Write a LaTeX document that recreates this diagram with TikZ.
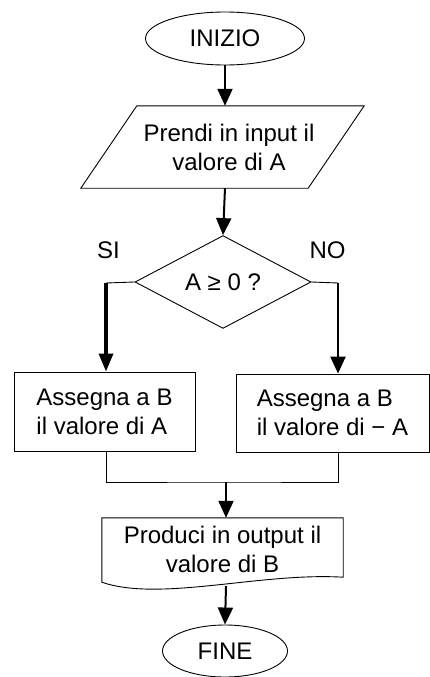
\documentclass[tikz,border=0pt]{standalone}
\usepackage{fontspec}
\setmainfont{Liberation Sans}
\usetikzlibrary{shapes.geometric,arrows.meta}
\begin{document}
\begin{tikzpicture}[x=1pt,y=-1pt]
\tikzstyle{every node}=[font=\fontsize{24}{29}\selectfont]
\tikzstyle{term}=[ellipse,draw,line width=0.9pt,inner sep=0pt]
\tikzstyle{box}=[rectangle,draw,line width=0.9pt,inner sep=0pt,align=left]
\tikzstyle{flow}=[->,>={Triangle[width=15pt,length=17pt]},line width=2pt]
\useasboundingbox (0,0) rectangle (430,677);
\node[term,minimum width=159pt,minimum height=53pt] (start) at (225,38.5) {INIZIO};
\node[inner sep=0pt,minimum width=227pt,minimum height=82pt,align=center] (input) at (229,147) {Prendi in input il\\valore di A};
\draw[line width=0.9pt] ([xshift=21.5pt]input.north west) -- ([xshift=21.5pt]input.north east)
  -- ([xshift=-34.5pt]input.south east) -- ([xshift=-34.5pt]input.south west) -- cycle;
\node[diamond,draw,line width=0.9pt,inner sep=0pt,minimum width=176pt,minimum height=82pt] (test) at (223,282) {A ≥ 0 ?};
\node[anchor=base] (si) at (108.5,258) {SI};
\node[anchor=base] (no) at (327.5,258) {NO};
\coordinate (left) at (106,283);
\coordinate (right) at (338,283);
\node[box,minimum width=181pt,minimum height=79pt] (yes) at (104.5,411.5) {Assegna a B\\il valore di A};
\node[box,minimum width=193pt,minimum height=78pt] (neg) at (332.5,413) {Assegna a B\\il valore di − A};
\coordinate (join) at (226,482);
\node[inner sep=0pt,minimum width=241pt,minimum height=62pt,align=center] (out) at (222.5,549) {Produci in output il\\valore di B};
\draw[line width=0.9pt] ([yshift=-2pt]out.south west) -- (out.north west) -- (out.north east) -- ([yshift=3pt]out.south east)
  .. controls +(-83,-5) and +(58,20) .. ([yshift=-2pt]out.south west) -- cycle;
\coordinate (wave) at (226,586);
\node[term,minimum width=125pt,minimum height=52pt] (fine) at (225,651) {FINE};
\draw[flow] (start.south) -- (start.south |- input.north);
\draw[flow] (start.south |- input.south) -- (test.north);
\draw[line width=0.9pt] (test.west) -- (left);
\draw[line width=0.9pt] (test.east) -- (right);
\draw[flow,line width=3.5pt,>={Triangle[width=14pt,length=18pt]}] (left) -- (left |- yes.north);
\draw[flow,line width=2.3pt] (right) -- (right |- neg.north);
\draw[line width=0.9pt] (left |- yes.south) |- (join) -| (right |- neg.south);
\draw[flow] (join) -- (join |- out.north);
\draw[flow] (wave) -- (fine.north);
\end{tikzpicture}
\end{document}
